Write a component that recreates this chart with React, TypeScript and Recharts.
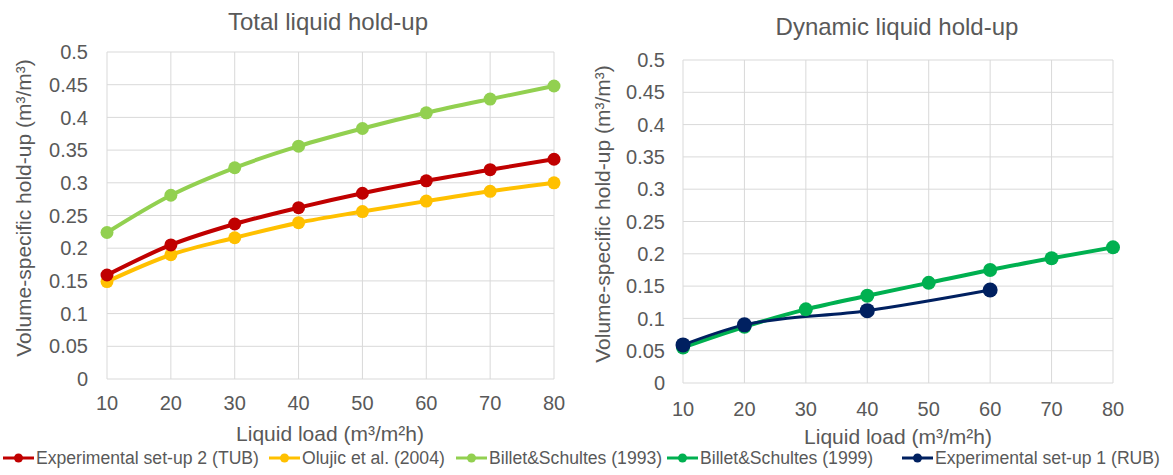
import React from 'react';
import { LineChart, Line, XAxis, YAxis, CartesianGrid } from 'recharts';

// Liquid load categories (m³/m²h)
const loads = [10, 20, 30, 40, 50, 60, 70, 80];
// Total liquid hold-up (m³/m³)
const tubHoldup = [0.159, 0.205, 0.237, 0.262, 0.284, 0.303, 0.320, 0.336];
const olujicHoldup = [0.149, 0.190, 0.216, 0.239, 0.256, 0.272, 0.287, 0.300];
const billet1993Holdup = [0.224, 0.281, 0.323, 0.356, 0.383, 0.407, 0.428, 0.448];
// Dynamic liquid hold-up (m³/m³)
const billet1999Dyn = [0.055, 0.087, 0.114, 0.135, 0.155, 0.175, 0.193, 0.210];
const rubLoads = [10, 20, 40, 60];
const rubDyn = [0.059, 0.090, 0.112, 0.144];

const xTicks = [10, 20, 30, 40, 50, 60, 70, 80];
const yTicks = [0, 0.05, 0.1, 0.15, 0.2, 0.25, 0.3, 0.35, 0.4, 0.45, 0.5];

const titles = ['Total liquid hold-up', 'Dynamic liquid hold-up'];
const xLabel = 'Liquid load (m³/m²h)';
const yLabel = 'Volume-specific hold-up (m³/m³)';

const legendNames = [
  'Experimental set-up 2 (TUB)',
  'Olujic et al. (2004)',
  'Billet&Schultes (1993)',
  'Billet&Schultes (1999)',
  'Experimental set-up 1 (RUB)',
];
const COLORS = {
  tub: '#C00000',
  olujic: '#FFC000',
  b1993: '#92D050',
  b1999: '#00B050',
  rub: '#002060',
};
const legendColors = [COLORS.tub, COLORS.olujic, COLORS.b1993, COLORS.b1999, COLORS.rub];
const legendX = [3, 269, 456, 667, 902];

const FONT = '"Liberation Sans", Arial, Helvetica, sans-serif';
const TEXT = '#595959';
const GRID = '#d9d9d9';

const toPoints = (xs: number[], ys: number[]) => xs.map((x, i) => ({ x, y: ys[i] }));

const tickStyle = { fill: TEXT, fontSize: 20, fontFamily: FONT };

type Series = { name: string; color: string; data: { x: number; y: number }[]; r: number; w: number };

function Panel(props: {
  width: number;
  height: number;
  margin: { top: number; right: number; left: number; bottom: number };
  yWidth: number;
  xHeight: number;
  yGap: number;
  xGap: number;
  series: Series[];
}) {
  const { width, height, margin, yWidth, xHeight, yGap, xGap, series } = props;
  return (
    <LineChart width={width} height={height} margin={margin}>
      <CartesianGrid stroke={GRID} strokeWidth={1} />
      <XAxis
        dataKey="x"
        type="number"
        domain={[10, 80]}
        ticks={xTicks}
        axisLine={false}
        tickLine={false}
        tickSize={0}
        tickMargin={xGap}
        height={xHeight}
        tick={tickStyle}
        allowDuplicatedCategory={false}
      />
      <YAxis
        type="number"
        domain={[0, 0.5]}
        ticks={yTicks}
        width={yWidth}
        axisLine={false}
        tickLine={false}
        tickSize={0}
        tickMargin={yGap}
        tick={tickStyle}
      />
      {series.map((s) => (
        <Line
          key={s.name}
          name={s.name}
          data={s.data}
          dataKey="y"
          type="monotone"
          stroke={s.color}
          strokeWidth={s.w}
          dot={{ r: s.r, fill: s.color, stroke: s.color, strokeWidth: 0 }}
          isAnimationActive={false}
        />
      ))}
    </LineChart>
  );
}

export default function App() {
  const leftSeries: Series[] = [
    { name: legendNames[2], color: COLORS.b1993, data: toPoints(loads, billet1993Holdup), r: 6.5, w: 4 },
    { name: legendNames[1], color: COLORS.olujic, data: toPoints(loads, olujicHoldup), r: 6.5, w: 4 },
    { name: legendNames[0], color: COLORS.tub, data: toPoints(loads, tubHoldup), r: 6.5, w: 4 },
  ];
  const rightSeries: Series[] = [
    { name: legendNames[3], color: COLORS.b1999, data: toPoints(loads, billet1999Dyn), r: 7, w: 4 },
    { name: legendNames[4], color: COLORS.rub, data: toPoints(rubLoads, rubDyn), r: 7.5, w: 3 },
  ];

  return (
    <div
      style={{
        position: 'absolute',
        left: 0,
        top: 0,
        width: 1173,
        height: 475,
        background: '#fff',
        fontFamily: FONT,
        overflow: 'hidden',
      }}
    >
      <div style={{ position: 'absolute', left: 0, top: 0 }}>
        <Panel
          width={580}
          height={440}
          margin={{ top: 52, right: 26, left: 0, bottom: 0 }}
          yWidth={107}
          xHeight={61}
          yGap={19}
          xGap={17}
          series={leftSeries}
        />
      </div>
      <div style={{ position: 'absolute', left: 590, top: 0 }}>
        <Panel
          width={583}
          height={440}
          margin={{ top: 60, right: 60, left: 0, bottom: 0 }}
          yWidth={93}
          xHeight={57}
          yGap={18}
          xGap={19}
          series={rightSeries}
        />
      </div>
      <svg
        width={1173}
        height={475}
        style={{ position: 'absolute', left: 0, top: 0, pointerEvents: 'none' }}
        fontFamily={FONT}
      >
        <text x={328} y={30} textAnchor="middle" fontSize={24} fill={TEXT}>{titles[0]}</text>
        <text x={897} y={35} textAnchor="middle" fontSize={24} fill={TEXT}>{titles[1]}</text>
        <text x={330} y={441} textAnchor="middle" fontSize={21} fill={TEXT}>{xLabel}</text>
        <text x={898} y={444} textAnchor="middle" fontSize={21} fill={TEXT}>{xLabel}</text>
        <text transform="translate(31,208) rotate(-90)" textAnchor="middle" fontSize={21} fill={TEXT}>{yLabel}</text>
        <text transform="translate(610,214) rotate(-90)" textAnchor="middle" fontSize={21} fill={TEXT}>{yLabel}</text>
        {legendNames.map((name, i) => (
          <g key={name} transform={`translate(${legendX[i]},458)`}>
            <line x1={0} y1={0} x2={31} y2={0} stroke={legendColors[i]} strokeWidth={3} />
            <circle cx={15.5} cy={0} r={4.5} fill={legendColors[i]} />
            <text x={33} y={6} fontSize={17.6} fill={TEXT}>{name}</text>
          </g>
        ))}
      </svg>
    </div>
  );
}
